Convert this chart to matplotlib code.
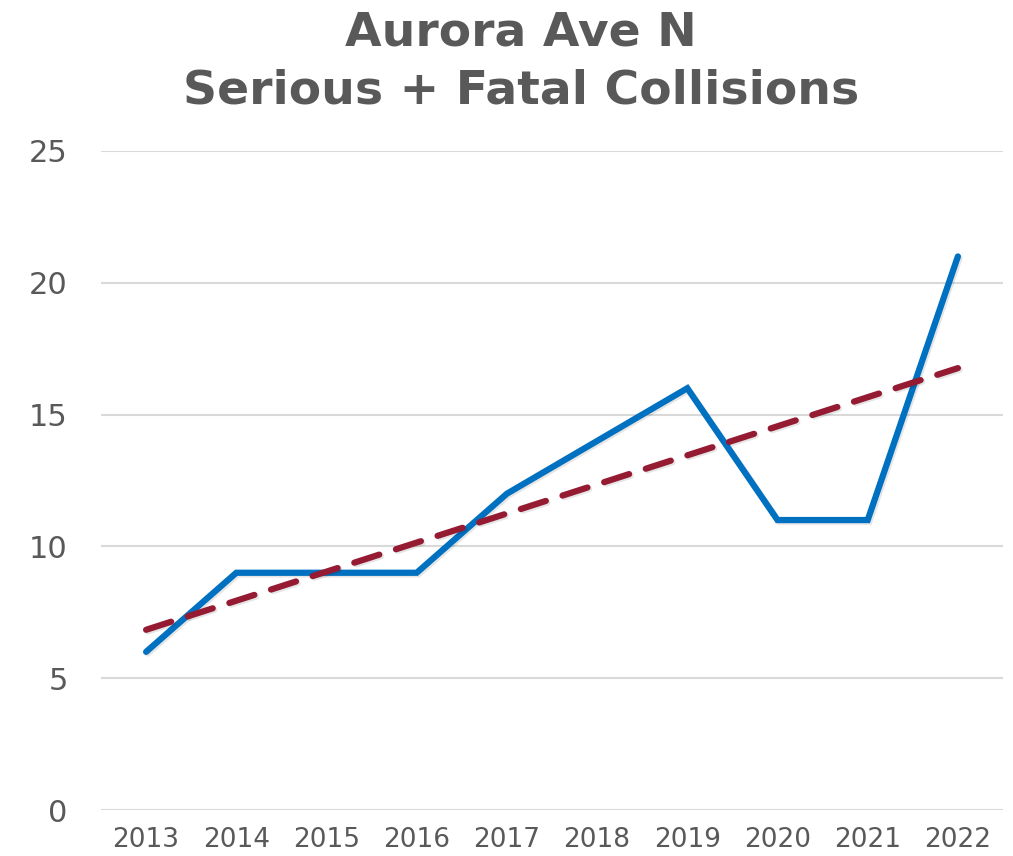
import matplotlib.pyplot as plt
import matplotlib.patheffects as pe
import numpy as np

years = ['2013', '2014', '2015', '2016', '2017', '2018', '2019', '2020', '2021', '2022']
collisions = [6, 9, 9, 9, 12, 14, 16, 11, 11, 21]
yticks = [0, 5, 10, 15, 20, 25]

gray = '#595959'
blue = '#0070C0'
red = '#951B33'

plt.rcParams['font.family'] = ['DejaVu Sans']

fig = plt.figure(figsize=(10.13, 8.56), dpi=100)
ax = fig.add_axes([101/1013, 1 - 810/856, 902/1013, 659/856])

x = np.arange(len(years))

# linear trendline like the spreadsheet one
coef = np.polyfit(x, collisions, 1)
trend = np.polyval(coef, x)

shadow = [pe.SimpleLineShadow(offset=(1.2, -1.2), alpha=0.1, shadow_color='black'), pe.Normal()]

ax.plot(x, collisions, color=blue, lw=4.5, solid_capstyle='round',
        solid_joinstyle='miter', path_effects=shadow, zorder=3)
ax.plot(x, trend, color=red, lw=4.5, dashes=(4.2, 2.8), dash_capstyle='round',
        path_effects=shadow, zorder=4)

ax.set_xlim(-0.5, len(years) - 0.5)
ax.set_ylim(0, 25)
ax.set_yticks(yticks)
ax.set_xticks(x)
ax.set_xticklabels(years)
ax.grid(axis='y', color='#D9D9D9', lw=1.5, zorder=0)
ax.set_axisbelow(True)
for s in ax.spines.values():
    s.set_visible(False)
ax.tick_params(axis='y', length=0, pad=24, labelsize=22, labelcolor=gray)
ax.tick_params(axis='x', length=0, pad=12, labelsize=19, labelcolor=gray)

fig.text(521/1013, 1 - 46/856, 'Aurora Ave N', ha='center', va='baseline',
         fontsize=34, fontweight='bold', color=gray)
fig.text(521/1013, 1 - 104/856, 'Serious + Fatal Collisions', ha='center', va='baseline',
         fontsize=34, fontweight='bold', color=gray)

fig.savefig('out.png', dpi=100)
